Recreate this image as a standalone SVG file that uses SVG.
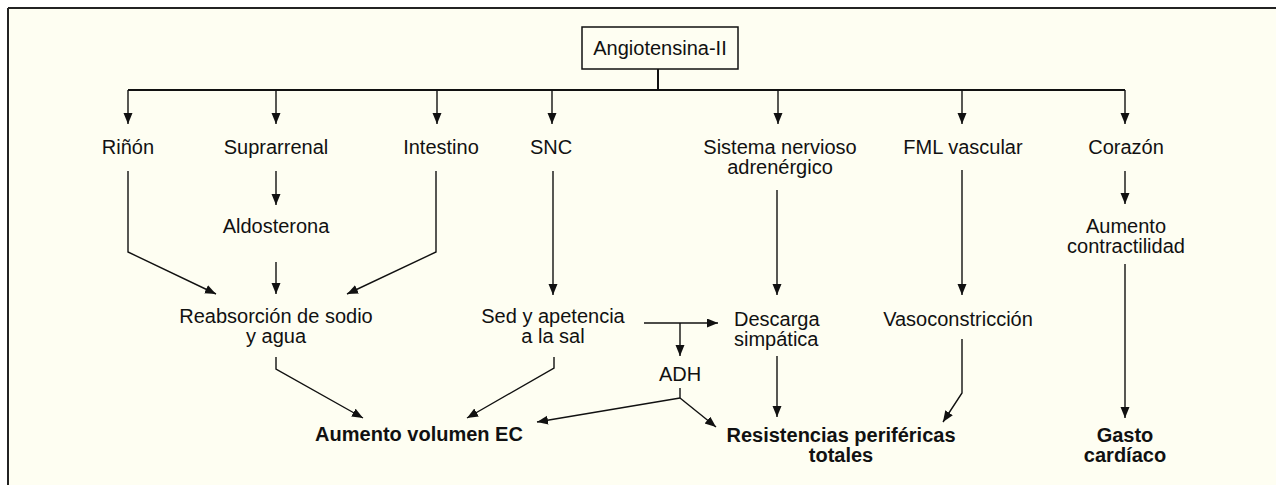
<svg xmlns="http://www.w3.org/2000/svg" width="1276" height="485" viewBox="0 0 1276 485">
<style>
text{font-family:"Liberation Sans",Arial,Helvetica,sans-serif;font-size:20px;fill:#111;text-anchor:middle}
.b{font-weight:bold}
.c{fill:none;stroke:#111;stroke-width:1.4}
.t{fill:none;stroke:#111;stroke-width:2}
</style>
<defs>
<marker id="ah" markerUnits="userSpaceOnUse" markerWidth="12" markerHeight="10" refX="11" refY="4.5" orient="auto"><path d="M0,0 L11,4.5 L0,9 z" fill="#111"/></marker>
</defs>
<rect x="0" y="0" width="1276" height="485" fill="#fff"/>
<rect x="8" y="8" width="1268" height="477" fill="#fefef2"/>
<path d="M8,8 H1276 M8,8 V485" fill="none" stroke="#222" stroke-width="2"/>

<g id="connectors">
<path class="t" d="M658,69 V90 M128,90 H1125"/>
<path class="c" marker-end="url(#ah)" d="M128,90 V124"/>
<path class="c" marker-end="url(#ah)" d="M276,90 V124"/>
<path class="c" marker-end="url(#ah)" d="M437,90 V124"/>
<path class="c" marker-end="url(#ah)" d="M552,90 V124"/>
<path class="c" marker-end="url(#ah)" d="M778,90 V124"/>
<path class="c" marker-end="url(#ah)" d="M962,90 V124"/>
<path class="c" marker-end="url(#ah)" d="M1125,90 V124"/>
<path class="c" marker-end="url(#ah)" d="M276,171 V205"/>
<path class="c" marker-end="url(#ah)" d="M1125,171 V204"/>
<path class="c" marker-end="url(#ah)" d="M128,171 V252 L216,294"/>
<path class="c" marker-end="url(#ah)" d="M436,171 V252 L347,294"/>
<path class="c" marker-end="url(#ah)" d="M276,262 V294"/>
<path class="c" marker-end="url(#ah)" d="M553,171 V295"/>
<path class="c" marker-end="url(#ah)" d="M777,190 V295"/>
<path class="c" marker-end="url(#ah)" d="M962,170 V295"/>
<path class="c" marker-end="url(#ah)" d="M1125,264 V418"/>
<path class="c" marker-end="url(#ah)" d="M644,323 H718"/>
<path class="c" marker-end="url(#ah)" d="M680,323 V356"/>
<path class="c" d="M680,388 V398"/>
<path class="c" marker-end="url(#ah)" d="M680,398 L537,422"/>
<path class="c" marker-end="url(#ah)" d="M680,398 L716,427"/>
<path class="c" marker-end="url(#ah)" d="M276,357 V369 L363,418"/>
<path class="c" marker-end="url(#ah)" d="M554,357 V368 L467,418"/>
<path class="c" marker-end="url(#ah)" d="M777,356 V417"/>
<path class="c" marker-end="url(#ah)" d="M962,339 V393 L943,422"/>
</g>

<g id="angiotensina">
<rect x="582" y="27" width="156" height="42" fill="#fefef2" stroke="#111" stroke-width="1.5"/>
<text x="660" y="55">Angiotensina-II</text>
</g>
<g id="rinon"><text x="128" y="154">Riñón</text></g>
<g id="suprarrenal"><text x="276" y="154">Suprarrenal</text></g>
<g id="intestino"><text x="441" y="154">Intestino</text></g>
<g id="snc"><text x="551" y="154">SNC</text></g>
<g id="sistema"><text x="780" y="154">Sistema nervioso</text><text x="780" y="174">adrenérgico</text></g>
<g id="fml"><text x="963" y="154">FML vascular</text></g>
<g id="corazon"><text x="1126" y="154">Corazón</text></g>
<g id="aldosterona"><text x="276" y="233">Aldosterona</text></g>
<g id="contractilidad"><text x="1126" y="233">Aumento</text><text x="1126" y="253">contractilidad</text></g>
<g id="reabsorcion"><text x="276" y="323">Reabsorción de sodio</text><text x="276" y="343">y agua</text></g>
<g id="sed"><text x="553" y="323">Sed y apetencia</text><text x="553" y="343">a la sal</text></g>
<g id="descarga"><text x="734" y="326" style="text-anchor:start">Descarga</text><text x="734" y="346" style="text-anchor:start">simpática</text></g>
<g id="vasoconstriccion"><text x="958" y="326">Vasoconstricción</text></g>
<g id="adh"><text x="680" y="381">ADH</text></g>
<g id="volumen"><text class="b" x="419" y="441">Aumento volumen EC</text></g>
<g id="resistencias"><text class="b" x="841" y="442">Resistencias periféricas</text><text class="b" x="841" y="462">totales</text></g>
<g id="gasto"><text class="b" x="1125" y="442">Gasto</text><text class="b" x="1125" y="462">cardíaco</text></g>
</svg>
